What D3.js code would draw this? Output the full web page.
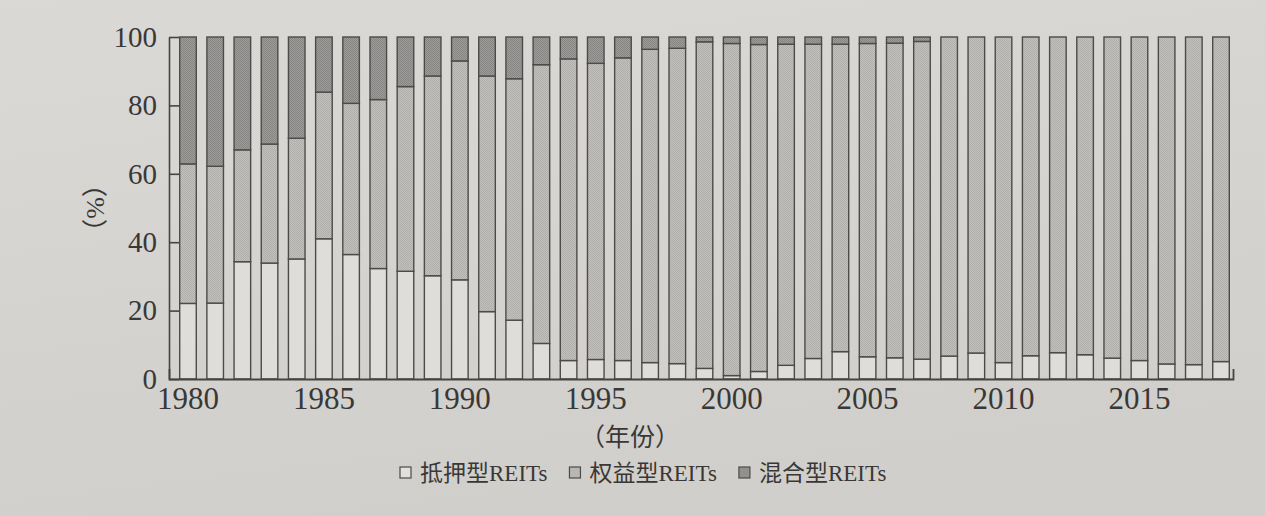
<!DOCTYPE html>
<html>
<head>
<meta charset="utf-8">
<script src="https://cdn.jsdelivr.net/npm/d3@7"></script>
<style>
  html, body { margin: 0; padding: 0; background: #d6d4d1; }
  svg { display: block; }
</style>
</head>
<body>
<svg id="chart" width="1265" height="516"></svg>
<script>
// ---- data (percent shares) ----
const years = [1980,1981,1982,1983,1984,1985,1986,1987,1988,1989,
               1990,1991,1992,1993,1994,1995,1996,1997,1998,1999,
               2000,2001,2002,2003,2004,2005,2006,2007,2008,2009,
               2010,2011,2012,2013,2014,2015,2016,2017,2018];
const mortgage = [22.1,22.2,34.3,33.9,35.1,41.0,36.4,32.3,31.5,30.2,
                  29.0,19.7,17.2,10.4,5.4,5.7,5.4,4.8,4.5,3.1,
                  1.0,2.2,4.0,6.0,8.0,6.5,6.2,5.8,6.7,7.6,
                  4.8,6.8,7.7,7.1,6.1,5.4,4.4,4.2,5.1];
const equity = [40.8,40.0,32.7,34.8,35.3,42.9,44.2,49.4,54.0,58.4,
                64.0,68.9,70.6,81.5,88.2,86.6,88.5,91.6,92.2,95.5,
                97.1,95.6,93.9,91.9,89.9,91.6,92.0,92.9,93.3,92.4,
                95.2,93.2,92.3,92.9,93.9,94.6,95.6,95.8,94.9];
const hybrid = [37.1,37.8,33.0,31.3,29.6,16.1,19.4,18.3,14.5,11.4,
                7.0,11.4,12.2,8.1,6.4,7.7,6.1,3.6,3.3,1.4,
                1.9,2.2,2.1,2.1,2.1,1.9,1.8,1.3,0,0,
                0,0,0,0,0,0,0,0,0];
const seriesNames = ["抵押型REITs", "权益型REITs", "混合型REITs"];
const xTickYears = [1980,1985,1990,1995,2000,2005,2010,2015];
const yTicks = [0,20,40,60,80,100];
const xTitle = "（年份）";
const yTitle = "（%）";

// ---- build table ----
const keys = ["mortgage","equity","hybrid"];
const table = years.map((yr,i) => ({year: yr, mortgage: mortgage[i], equity: equity[i], hybrid: hybrid[i]}));
const stacked = d3.stack().keys(keys)(table);

const svg = d3.select("#chart");
const fontLatin = "'Liberation Serif','Times New Roman',serif";
const fontMixed = "'Liberation Serif','Noto Sans CJK SC',serif";

// background (paper tone)
const defs = svg.append("defs");
const grad = defs.append("linearGradient").attr("id","paper").attr("x1",0).attr("y1",0).attr("x2",0.3).attr("y2",1);
grad.append("stop").attr("offset","0%").attr("stop-color","#dbd9d5");
grad.append("stop").attr("offset","100%").attr("stop-color","#d1cfcc");
svg.append("rect").attr("width",1265).attr("height",516).attr("fill","url(#paper)");

// patterns
function checker(id, c1, c2){
  const p = defs.append("pattern").attr("id", id).attr("patternUnits","userSpaceOnUse")
    .attr("width", 2).attr("height", 2);
  p.append("rect").attr("width",2).attr("height",2).attr("fill", c1);
  p.append("rect").attr("width",1).attr("height",1).attr("fill", c2);
  p.append("rect").attr("x",1).attr("y",1).attr("width",1).attr("height",1).attr("fill", c2);
}
checker("patEq", "#c3c1be", "#b0aeab");
checker("patHy", "#9e9c99", "#878583");
const fills = {mortgage: "#dfddda", equity: "url(#patEq)", hybrid: "url(#patHy)"};
const legendFills = {mortgage: "#e2e0dd", equity: "#b9b7b4", hybrid: "#93918e"};

// scales
const x = d3.scaleBand().domain(years).range([174.4, 1234.6]).paddingInner(0.39).paddingOuter(0.195);
const y = d3.scaleLinear().domain([0,100]).range([379, 37]);
const xFrame = d3.scaleLinear().domain([0,1]).range([169, 1233]);

// bars
const g = svg.append("g");
g.selectAll("g.layer").data(stacked).join("g").attr("class","layer")
  .attr("fill", d => fills[d.key])
  .selectAll("rect").data(d => d.filter(s => s[1] - s[0] > 0))
  .join("rect")
  .attr("x", d => x(d.data.year))
  .attr("width", x.bandwidth())
  .attr("y", d => y(d[1]))
  .attr("height", d => y(d[0]) - y(d[1]))
  .attr("stroke", "#4d4b49")
  .attr("stroke-width", 1.4);

// y axis
const yAxis = svg.append("g").attr("transform", "translate(169,0)")
  .call(d3.axisLeft(y).tickValues(yTicks).tickSizeInner(-10).tickSizeOuter(0).tickPadding(12));
yAxis.select(".domain").attr("stroke", "#444").attr("stroke-width", 1.6);
yAxis.selectAll(".tick line").attr("stroke", "#444").attr("stroke-width", 1.6);
yAxis.selectAll("text").attr("font-family", fontLatin).attr("font-size", 29).attr("fill", "#3a3836");

// x baseline frame
const xFrameAxis = svg.append("g").attr("transform", "translate(0,379)")
  .call(d3.axisBottom(xFrame).tickValues([]).tickSizeOuter(-10));
xFrameAxis.select(".domain").attr("stroke", "#444").attr("stroke-width", 1.8);

// x labels
const xAxis = svg.append("g").attr("transform", "translate(0,379)")
  .call(d3.axisBottom(x).tickValues(xTickYears).tickSize(0).tickPadding(8));
xAxis.select(".domain").remove();
xAxis.selectAll("text").attr("font-family", fontLatin).attr("font-size", 31).attr("fill", "#3a3836");

// axis titles
svg.append("text").attr("x", 630).attr("y", 446).attr("text-anchor","middle")
  .attr("font-family", fontMixed).attr("font-size", 25).attr("fill", "#3a3836").text(xTitle);
svg.append("text").attr("transform", "translate(104,208) rotate(-90)").attr("text-anchor","middle")
  .attr("font-family", fontMixed).attr("font-size", 26).attr("fill", "#3a3836").text(yTitle);

// legend
const legend = svg.append("g").attr("transform", "translate(400,473)");
let cx = 0;
const gaps = [22, 22, 0];
keys.forEach((k, i) => {
  const item = legend.append("g").attr("transform", `translate(${cx},0)`);
  item.append("rect").attr("x", 0).attr("y", -6).attr("width", 11).attr("height", 11)
    .attr("fill", legendFills[k]).attr("stroke", "#4d4b49").attr("stroke-width", 1.2);
  const t = item.append("text").attr("x", 20).attr("y", 8)
    .attr("font-family", fontMixed).attr("font-size", 23).attr("fill", "#3a3836").text(seriesNames[i]);
  cx += 20 + t.node().getComputedTextLength() + gaps[i];
});
</script>
</body>
</html>
